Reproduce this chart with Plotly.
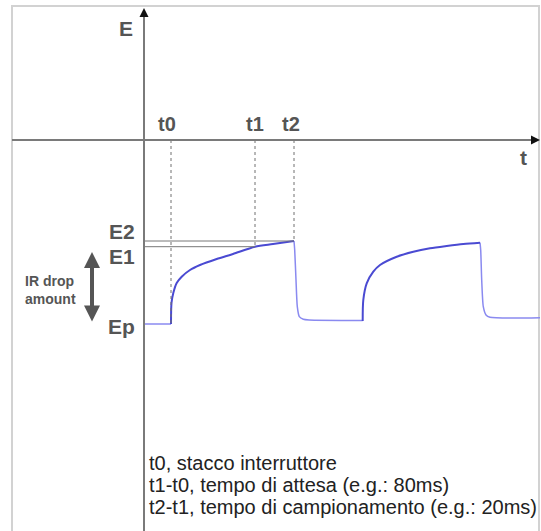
import plotly.graph_objects as go

# ---- data (schematic units: t to the right of the E axis, E above the t axis) ----
t_base1 = [1, 27]
E_base1 = [-184, -184]
t_rise1 = [27, 27.5, 29.3, 32.7, 37.7, 46, 56, 72.7, 89, 111, 129, 150]
E_rise1 = [-184, -163, -153, -143, -136.7, -130, -125, -119, -114, -106.7, -104, -101]
t_fall1 = [150, 150.7, 152, 153.3, 155.3, 159.3, 165, 218.7]
E_fall1 = [-101, -110, -140, -166.7, -176.7, -179.3, -180, -180.5]
t_rise2 = [218.7, 219.3, 222.7, 229.3, 236, 252.7, 269.3, 286, 302.7, 319.3, 336]
E_rise2 = [-181, -160, -143.3, -131.7, -125, -116.7, -111.7, -108.3, -106, -104, -102.7]
t_fall2 = [336, 336.7, 337.7, 339.3, 342, 346, 396]
E_fall2 = [-102.7, -110, -140, -166.7, -175, -177.3, -177.7]

time_marks = {"t0": 27, "t1": 111, "t2": 150}
E_levels = {"E2": -101, "E1": -106.7, "Ep": -184}
notes = ["t0, stacco interruttore",
         "t1-t0, tempo di attesa (e.g.: 80ms)",
         "t2-t1, tempo di campionamento (e.g.: 20ms)"]

X_RANGE = [-144, 397]
Y_RANGE = [-391, 140]

FONT = "Liberation Sans, Arial, sans-serif"
LABEL_C = "#555555"
LIGHT_BLUE = "#8a8af0"
DARK_BLUE = "#4a4ad2"

fig = go.Figure()

# light (flat + falling) parts
for tx, ey in [(t_base1, E_base1), (t_fall1, E_fall1), (t_fall2, E_fall2)]:
    fig.add_trace(go.Scatter(x=tx, y=ey, mode="lines",
                             line=dict(color=LIGHT_BLUE, width=1.5, shape="spline", smoothing=0.6),
                             hoverinfo="skip", showlegend=False))
# rising parts
for tx, ey in [(t_rise1, E_rise1), (t_rise2, E_rise2)]:
    fig.add_trace(go.Scatter(x=tx, y=ey, mode="lines",
                             line=dict(color=DARK_BLUE, width=2, shape="spline", smoothing=0.8),
                             hoverinfo="skip", showlegend=False))

shapes = []
# frame
shapes.append(dict(type="rect", x0=-132, x1=395, y0=-420, y1=134,
                   line=dict(color="#d2d2d2", width=2), layer="below"))
# guide lines
shapes.append(dict(type="line", x0=0, x1=time_marks["t2"], y0=E_levels["E2"], y1=E_levels["E2"],
                   line=dict(color="#777777", width=1)))
shapes.append(dict(type="line", x0=0, x1=time_marks["t1"], y0=E_levels["E1"], y1=E_levels["E1"],
                   line=dict(color="#777777", width=1)))
shapes.append(dict(type="line", x0=time_marks["t0"], x1=time_marks["t0"], y0=0, y1=E_levels["Ep"],
                   line=dict(color="#707070", width=1, dash="dot")))
shapes.append(dict(type="line", x0=time_marks["t1"], x1=time_marks["t1"], y0=0, y1=E_levels["E1"],
                   line=dict(color="#707070", width=1, dash="dot")))
shapes.append(dict(type="line", x0=time_marks["t2"], x1=time_marks["t2"], y0=0, y1=E_levels["E2"],
                   line=dict(color="#707070", width=1, dash="dot")))
# axes
shapes.append(dict(type="line", x0=0, x1=0, y0=-400, y1=126,
                   line=dict(color="#7a7a7a", width=2)))
shapes.append(dict(type="line", x0=-132, x1=390, y0=0, y1=0,
                   line=dict(color="#7a7a7a", width=2)))

ann = []
# axis arrowheads
ann.append(dict(x=0, y=132, ax=0, ay=124, xref="x", yref="y", axref="x", ayref="y",
                text="", showarrow=True, arrowhead=2, arrowsize=1.2, arrowwidth=1.5,
                arrowcolor="#111111"))
ann.append(dict(x=396, y=0, ax=388, ay=0, xref="x", yref="y", axref="x", ayref="y",
                text="", showarrow=True, arrowhead=2, arrowsize=1.2, arrowwidth=1.5,
                arrowcolor="#111111"))
# IR drop double arrow
ann.append(dict(x=-52, y=-112, ax=-52, ay=-183, xref="x", yref="y", axref="x", ayref="y",
                text="", showarrow=True, arrowhead=2, startarrowhead=2, arrowside="end+start",
                arrowsize=0.8, startarrowsize=0.8, arrowwidth=4, arrowcolor="#555555"))


def label(txt, x, y, xa="center", size=20, color=LABEL_C, bold=True):
    ann.append(dict(x=x, y=y, xref="x", yref="y", text=txt, showarrow=False,
                    xanchor=xa, yanchor="middle", align="left",
                    font=dict(family=FONT, size=size, color=color,
                              weight="bold" if bold else "normal")))


label("E", -9, 112, xa="right", size=21)
label("t", 379, -17, size=21)
label("t0", 23, 16)
label("t1", 111, 16)
label("t2", 147, 16)
label("E2", -7, -91.5, xa="right", size=21)
label("E1", -7, -116.5, xa="right", size=21)
label("Ep", -7, -186, xa="right", size=21)
label("IR drop<br>amount", -121, -150, xa="left", size=14)
for i, line in enumerate(notes):
    label(line, 3, -323 - 22 * i, xa="left", size=20, color="#222222", bold=False)

fig.update_layout(
    width=541, height=531,
    margin=dict(l=0, r=0, t=0, b=0),
    paper_bgcolor="white", plot_bgcolor="white",
    xaxis=dict(range=X_RANGE, visible=False, fixedrange=True),
    yaxis=dict(range=Y_RANGE, visible=False, fixedrange=True),
    shapes=shapes, annotations=ann,
    showlegend=False,
)

fig.write_html("out.html", config={"displayModeBar": False},
               post_script="document.body.style.margin='0';")
